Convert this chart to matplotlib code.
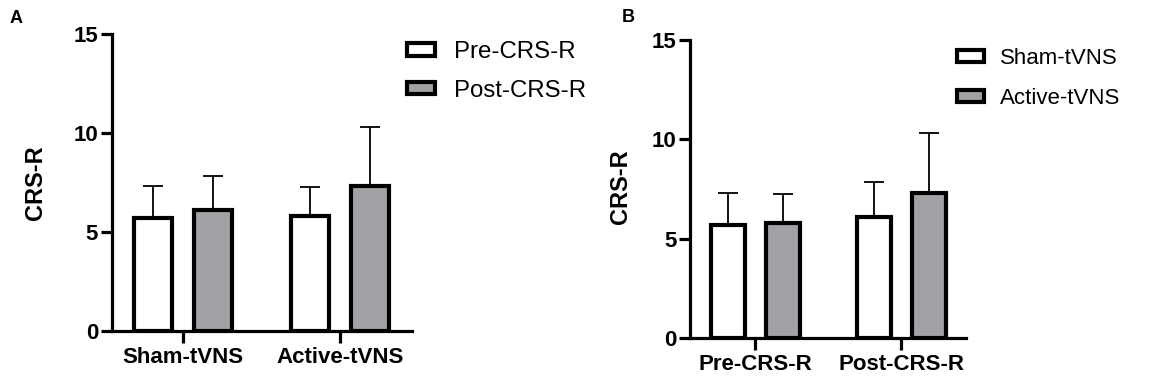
import matplotlib
matplotlib.use("Agg")
import matplotlib.pyplot as plt
import numpy as np

plt.rcParams['font.family'] = ['Liberation Sans', 'DejaVu Sans']

# Data
groups_A = ["Sham-tVNS", "Active-tVNS"]
series_A = ["Pre-CRS-R", "Post-CRS-R"]
pre_means = [5.7, 5.8]      # Sham, Active
post_means = [6.1, 7.3]
pre_sd = [1.6, 1.45]
post_sd = [1.75, 3.0]

groups_B = ["Pre-CRS-R", "Post-CRS-R"]
series_B = ["Sham-tVNS", "Active-tVNS"]
yticks = [0, 5, 10, 15]

WHITE = "#ffffff"
GRAY = "#a2a2a6"

fig = plt.figure(figsize=(11.7, 3.77), dpi=100)

def style_axes(ax, xlim):
    ax.set_ylim(0, 15)
    ax.set_xlim(*xlim)
    ax.set_yticks(yticks)
    for s in ["top", "right"]:
        ax.spines[s].set_visible(False)
    for s in ["left", "bottom"]:
        ax.spines[s].set_linewidth(2.3)
    ax.tick_params(axis='y', width=2.3, length=8, labelsize=16, pad=2)
    ax.tick_params(axis='x', width=2.3, length=8.5, labelsize=16, pad=3)
    for lab in ax.get_xticklabels() + ax.get_yticklabels():
        lab.set_fontweight('bold')

def draw_panel(ax, cats, names, vals1, err1, vals2, err2, off, width):
    x = np.arange(len(cats))
    h1 = ax.bar(x - off, vals1, width, color=WHITE, edgecolor='black', linewidth=3, label=names[0], zorder=3)
    h2 = ax.bar(x + off, vals2, width, color=GRAY, edgecolor='black', linewidth=3, label=names[1], zorder=3)
    ax.errorbar(x - off, vals1, yerr=[np.zeros(len(cats)), err1], fmt='none', ecolor='black',
                elinewidth=1.3, capsize=7, capthick=1.3, zorder=2)
    ax.errorbar(x + off, vals2, yerr=[np.zeros(len(cats)), err2], fmt='none', ecolor='black',
                elinewidth=1.3, capsize=7, capthick=1.3, zorder=2)
    ax.set_xticks(x)
    ax.set_xticklabels(cats)
    return h1, h2

# Panel A
axA = fig.add_axes([0.0957, 0.122, 0.2564, 0.788])
hA = draw_panel(axA, groups_A, series_A, pre_means, pre_sd, post_means, post_sd, 0.19, 0.24)
style_axes(axA, (-0.452, 1.459))
axA.set_ylabel("CRS-R", fontsize=17, fontweight='bold')
axA.yaxis.set_label_coords(-0.215, 0.5)
legA = axA.legend(handles=list(hA), loc='upper left', bbox_to_anchor=(0.348, 0.892),
                  bbox_transform=fig.transFigure, frameon=False, fontsize=17.3,
                  handlelength=1.15, handleheight=0.45, handletextpad=0.8, labelspacing=0.7,
                  borderaxespad=0, borderpad=0)
fig.text(0.0085, 0.952, "A", fontsize=13, fontweight='bold', va='center', ha='left')

# Panel B
sham_means = [pre_means[0], post_means[0]]
active_means = [pre_means[1], post_means[1]]
sham_sd = [pre_sd[0], post_sd[0]]
active_sd = [pre_sd[1], post_sd[1]]

axB = fig.add_axes([0.590, 0.1035, 0.236, 0.7905])
hB = draw_panel(axB, groups_B, series_B, sham_means, sham_sd, active_means, active_sd, 0.187, 0.233)
style_axes(axB, (-0.445, 1.445))
axB.set_ylabel("CRS-R", fontsize=17, fontweight='bold')
axB.yaxis.set_label_coords(-0.21, 0.507)
legB = axB.legend(handles=list(hB), loc='upper left', bbox_to_anchor=(0.818, 0.872),
                  bbox_transform=fig.transFigure, frameon=False, fontsize=16,
                  handlelength=1.2, handleheight=0.45, handletextpad=0.75, labelspacing=0.85,
                  borderaxespad=0, borderpad=0)
fig.text(0.5316, 0.954, "B", fontsize=13, fontweight='bold', va='center', ha='left')

fig.savefig("out.png", dpi=100)
